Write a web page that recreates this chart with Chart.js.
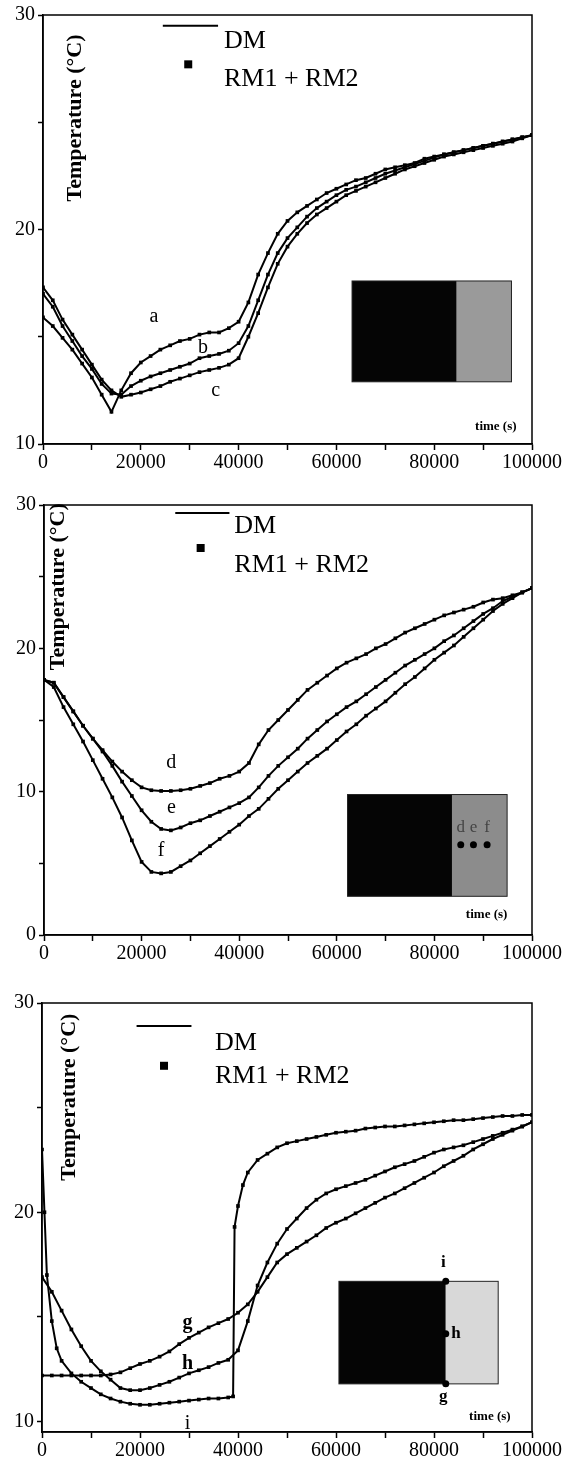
<!DOCTYPE html>
<html>
<head>
<meta charset="utf-8">
<script src="https://cdn.jsdelivr.net/npm/chart.js@4.4.0/dist/chart.umd.min.js"></script>
<style>
  body { margin: 0; background: #fff; }
  canvas { position: absolute; left: 0; }
</style>
</head>
<body>
<canvas id="grafico-abc" width="565" height="485" style="top:0"></canvas>
<canvas id="grafico-def" width="565" height="490" style="top:485px"></canvas>
<canvas id="grafico-ghi" width="565" height="486" style="top:975px"></canvas>
<script>
// tempos comuns (s)
const tempos = [0, 2000, 4000, 6000, 8000, 10000, 12000, 14000, 16000, 18000, 20000, 22000, 24000, 26000, 28000, 30000, 32000, 34000, 36000, 38000, 40000, 42000, 44000, 46000, 48000, 50000, 52000, 54000, 56000, 58000, 60000, 62000, 64000, 66000, 68000, 70000, 72000, 74000, 76000, 78000, 80000, 82000, 84000, 86000, 88000, 90000, 92000, 94000, 96000, 98000, 100000];

// painel 1
const curvaA = [15.9, 15.5, 14.95, 14.4, 13.75, 13.1, 12.3, 11.5, 12.5, 13.3, 13.8, 14.1, 14.4, 14.6, 14.8, 14.9, 15.1, 15.2, 15.2, 15.4, 15.7, 16.6, 17.9, 18.9, 19.8, 20.4, 20.8, 21.1, 21.4, 21.7, 21.9, 22.1, 22.3, 22.4, 22.6, 22.8, 22.9, 23.0, 23.1, 23.3, 23.4, 23.5, 23.6, 23.7, 23.8, 23.9, 24.0, 24.1, 24.2, 24.3, 24.4];
const curvaB = [17.0, 16.4, 15.5, 14.8, 14.1, 13.5, 12.8, 12.35, 12.3, 12.7, 12.95, 13.15, 13.3, 13.45, 13.6, 13.75, 14.0, 14.1, 14.2, 14.35, 14.7, 15.5, 16.7, 17.9, 18.9, 19.6, 20.1, 20.6, 21.0, 21.3, 21.6, 21.85, 22.0, 22.2, 22.4, 22.6, 22.75, 22.9, 23.05, 23.2, 23.35, 23.5, 23.6, 23.7, 23.8, 23.9, 24.0, 24.1, 24.2, 24.3, 24.4];
const curvaC = [17.3, 16.7, 15.8, 15.1, 14.4, 13.7, 13.0, 12.5, 12.2, 12.3, 12.4, 12.55, 12.7, 12.9, 13.05, 13.2, 13.35, 13.45, 13.55, 13.7, 14.0, 15.0, 16.1, 17.3, 18.4, 19.2, 19.8, 20.3, 20.7, 21.0, 21.3, 21.6, 21.8, 22.0, 22.2, 22.4, 22.6, 22.8, 22.95, 23.1, 23.25, 23.4, 23.5, 23.6, 23.7, 23.8, 23.9, 24.0, 24.1, 24.25, 24.4];

// painel 2
const curvaD = [17.8, 17.6, 16.6, 15.6, 14.6, 13.7, 12.9, 12.1, 11.4, 10.8, 10.3, 10.1, 10.05, 10.05, 10.1, 10.2, 10.4, 10.6, 10.9, 11.1, 11.4, 12.0, 13.3, 14.3, 15.0, 15.7, 16.4, 17.1, 17.6, 18.1, 18.6, 19.0, 19.3, 19.6, 20.0, 20.3, 20.7, 21.1, 21.4, 21.7, 22.0, 22.3, 22.5, 22.7, 22.9, 23.2, 23.4, 23.5, 23.7, 23.9, 24.2];
const curvaE = [17.8, 17.6, 16.6, 15.6, 14.6, 13.7, 12.8, 11.8, 10.7, 9.7, 8.7, 7.9, 7.4, 7.3, 7.5, 7.8, 8.0, 8.3, 8.6, 8.9, 9.2, 9.6, 10.3, 11.1, 11.8, 12.4, 13.0, 13.7, 14.3, 14.9, 15.4, 15.9, 16.3, 16.8, 17.3, 17.8, 18.3, 18.8, 19.2, 19.6, 20.0, 20.5, 20.9, 21.4, 21.9, 22.4, 22.8, 23.3, 23.6, 23.9, 24.2];
const curvaF = [17.8, 17.3, 15.9, 14.7, 13.5, 12.2, 10.9, 9.6, 8.2, 6.6, 5.1, 4.4, 4.3, 4.4, 4.8, 5.2, 5.7, 6.2, 6.7, 7.2, 7.7, 8.3, 8.8, 9.5, 10.2, 10.8, 11.4, 12.0, 12.5, 13.0, 13.6, 14.2, 14.7, 15.3, 15.8, 16.3, 16.9, 17.5, 18.0, 18.6, 19.2, 19.7, 20.2, 20.8, 21.4, 22.0, 22.6, 23.1, 23.5, 23.9, 24.2];

// painel 3
const curvaG = [12.2, 12.2, 12.2, 12.2, 12.2, 12.2, 12.2, 12.25, 12.35, 12.55, 12.75, 12.9, 13.1, 13.35, 13.7, 14.0, 14.25, 14.5, 14.7, 14.9, 15.2, 15.6, 16.2, 16.9, 17.6, 18.0, 18.3, 18.6, 18.9, 19.25, 19.5, 19.7, 19.95, 20.2, 20.45, 20.7, 20.9, 21.15, 21.4, 21.65, 21.9, 22.2, 22.45, 22.7, 23.0, 23.25, 23.5, 23.7, 23.9, 24.1, 24.3];
const curvaH = [16.9, 16.2, 15.3, 14.4, 13.6, 12.9, 12.4, 12.0, 11.6, 11.5, 11.5, 11.6, 11.75, 11.9, 12.1, 12.3, 12.45, 12.6, 12.8, 12.95, 13.4, 14.8, 16.5, 17.6, 18.5, 19.2, 19.7, 20.2, 20.6, 20.9, 21.1, 21.25, 21.4, 21.55, 21.75, 21.95, 22.15, 22.3, 22.45, 22.65, 22.85, 23.0, 23.1, 23.2, 23.35, 23.5, 23.65, 23.8, 23.95, 24.1, 24.3];
const tempoI = [0, 500, 1000, 2000, 3000, 4000, 6000, 8000, 10000, 12000, 14000, 16000, 18000, 20000, 22000, 24000, 26000, 28000, 30000, 32000, 34000, 36000, 38000, 39000, 39300, 40000, 41000, 42000, 44000, 46000, 48000, 50000, 52000, 54000, 56000, 58000, 60000, 62000, 64000, 66000, 68000, 70000, 72000, 74000, 76000, 78000, 80000, 82000, 84000, 86000, 88000, 90000, 92000, 94000, 96000, 98000, 100000];
const curvaI = [23.0, 20.0, 17.0, 14.8, 13.5, 12.9, 12.3, 11.9, 11.6, 11.3, 11.1, 10.95, 10.85, 10.8, 10.8, 10.85, 10.9, 10.95, 11.0, 11.05, 11.1, 11.1, 11.15, 11.2, 19.3, 20.3, 21.3, 21.9, 22.5, 22.8, 23.1, 23.3, 23.4, 23.5, 23.6, 23.7, 23.8, 23.85, 23.9, 24.0, 24.05, 24.1, 24.1, 24.15, 24.2, 24.25, 24.3, 24.35, 24.4, 24.4, 24.45, 24.5, 24.55, 24.6, 24.6, 24.65, 24.65];

// eixos
const marcasTempo = [0, 10000, 20000, 30000, 40000, 50000, 60000, 70000, 80000, 90000, 100000];
const rotulosTempo = ['0', '20000', '40000', '60000', '80000', '100000'];
const marcasTemp1 = [10, 15, 20, 25, 30];
const marcasTemp2 = [0, 5, 10, 15, 20, 25, 30];
const rotulosTemp = ['0', '10', '20', '30'];

const serifa = "'Liberation Serif', 'DejaVu Serif', serif";

function pares(xs, ys) {
  return xs.map((t, i) => ({ x: t, y: ys[i] }));
}

function serie(xs, ys) {
  return {
    data: pares(xs, ys),
    showLine: true,
    borderColor: '#000',
    backgroundColor: '#000',
    borderWidth: 2,
    pointStyle: 'rect',
    pointRadius: 2.6,
    pointBorderWidth: 0,
    tension: 0,
  };
}

const pluginDecoracao = {
  id: 'decoracao',
  afterDraw(chart, args, opts) {
    const { ctx, chartArea } = chart;
    const px = (t) => chart.scales.x.getPixelForValue(t);
    const py = (v) => chart.scales.y.getPixelForValue(v);

    ctx.save();
    ctx.strokeStyle = '#000';
    ctx.lineWidth = 1.5;
    ctx.strokeRect(chartArea.left, chartArea.top, chartArea.right - chartArea.left, chartArea.bottom - chartArea.top);

    // titulo do eixo y, dentro do grafico
    ctx.fillStyle = '#000';
    ctx.save();
    ctx.translate(px(opts.titulo[0]), py(opts.titulo[1]));
    ctx.rotate(-Math.PI / 2);
    ctx.font = 'bold 22px ' + serifa;
    ctx.textAlign = 'center';
    ctx.textBaseline = 'middle';
    ctx.fillText('Temperature (°C)', 0, 0);
    ctx.restore();

    // legenda
    const leg = opts.legenda;
    ctx.lineWidth = 2;
    ctx.beginPath();
    ctx.moveTo(px(leg.linha[0]), py(leg.linha[2]));
    ctx.lineTo(px(leg.linha[1]), py(leg.linha[2]));
    ctx.stroke();
    ctx.fillRect(px(leg.quadrado[0]) - 4, py(leg.quadrado[1]) - 4, 8, 8);
    ctx.font = '26px ' + serifa;
    ctx.textAlign = 'left';
    ctx.textBaseline = 'middle';
    ctx.fillText('DM', px(leg.textoX), py(leg.dmY));
    ctx.fillText('RM1 + RM2', px(leg.textoX), py(leg.rmY));

    // time (s)
    ctx.font = 'bold 13px ' + serifa;
    ctx.textAlign = 'center';
    ctx.fillText('time (s)', px(opts.tempo[0]), py(opts.tempo[1]));

    // rotulos das curvas
    opts.rotulos.forEach((r) => {
      ctx.font = (r.negrito ? 'bold ' : '') + '20px ' + serifa;
      ctx.fillStyle = '#000';
      ctx.fillText(r.texto, px(r.t), py(r.v));
    });

    // desenho da parede
    const ins = opts.parede;
    const x0 = px(ins.t[0]), x1 = px(ins.t[1]), x2 = px(ins.t[2]);
    const y0 = py(ins.v[0]), y1 = py(ins.v[1]);
    ctx.fillStyle = '#050505';
    ctx.fillRect(x0, y0, x1 - x0, y1 - y0);
    ctx.fillStyle = ins.cor;
    ctx.fillRect(x1, y0, x2 - x1, y1 - y0);
    ctx.strokeStyle = '#222';
    ctx.lineWidth = 1;
    ctx.strokeRect(x0, y0, x2 - x0, y1 - y0);

    (ins.pontos || []).forEach((p) => {
      ctx.fillStyle = '#000';
      ctx.beginPath();
      ctx.arc(px(p[0]), py(p[1]), 3.5, 0, Math.PI * 2);
      ctx.fill();
    });
    (ins.letras || []).forEach((l) => {
      ctx.fillStyle = l.cor || '#000';
      ctx.font = (l.negrito ? 'bold ' : '') + '17px ' + serifa;
      ctx.textAlign = 'center';
      ctx.fillText(l.texto, px(l.t), py(l.v));
    });
    ctx.restore();
  },
};

function montarGrafico(idCanvas, datasets, eixoY, layout, decoracao) {
  const ctx = document.getElementById(idCanvas).getContext('2d');

  return new Chart(ctx, {
    type: 'scatter',
    data: { datasets: datasets },
    plugins: [pluginDecoracao],
    options: {
      responsive: false,
      animation: false,
      layout: { padding: layout.padding },
      plugins: {
        legend: { display: false },
        tooltip: { enabled: false },
        decoracao: decoracao,
      },
      scales: {
        x: {
          type: 'linear',
          min: 0,
          max: 100000,
          afterBuildTicks: (scale) => {
            scale.ticks = marcasTempo.map((v) => ({ value: v }));
          },
          afterFit: (scale) => {
            scale.height = layout.alturaX;
          },
          ticks: {
            autoSkip: false,
            maxRotation: 0,
            color: '#000',
            padding: 1,
            font: { family: serifa, size: 20 },
            callback: (value) => (rotulosTempo.includes(String(value)) ? String(value) : ''),
          },
          grid: {
            drawOnChartArea: false,
            drawTicks: true,
            tickLength: 6,
            tickWidth: 1.5,
            tickColor: '#000',
          },
          border: { color: '#000', width: 1.5 },
        },
        y: {
          min: eixoY.min,
          max: eixoY.max,
          afterBuildTicks: (scale) => {
            scale.ticks = eixoY.marcas.map((v) => ({ value: v }));
          },
          afterFit: (scale) => {
            scale.width = layout.larguraY;
          },
          ticks: {
            color: '#000',
            padding: 3,
            font: { family: serifa, size: 20 },
            callback: (value) => (rotulosTemp.includes(String(value)) ? String(value) : ''),
          },
          grid: {
            drawOnChartArea: false,
            drawTicks: true,
            tickLength: 5,
            tickWidth: 1.5,
            tickColor: '#000',
          },
          border: { color: '#000', width: 1.5 },
        },
      },
    },
  });
}

montarGrafico(
  'grafico-abc',
  [serie(tempos, curvaA), serie(tempos, curvaB), serie(tempos, curvaC)],
  { min: 10, max: 30, marcas: marcasTemp1 },
  { padding: { top: 14, right: 33, bottom: 11, left: 0 }, larguraY: 43, alturaX: 30 },
  {
    titulo: [6700, 25.2],
    legenda: { linha: [24500, 35800, 29.5], quadrado: [29700, 27.7], textoX: 37000, dmY: 28.8, rmY: 27.0 },
    tempo: [92600, 10.8],
    rotulos: [
      { texto: 'a', t: 22700, v: 15.95 },
      { texto: 'b', t: 32700, v: 14.5 },
      { texto: 'c', t: 35300, v: 12.5 },
    ],
    parede: { t: [63200, 84600, 95800], v: [17.6, 12.9], cor: '#9a9a9a' },
  }
);

montarGrafico(
  'grafico-def',
  [serie(tempos, curvaD), serie(tempos, curvaE), serie(tempos, curvaF)],
  { min: 0, max: 30, marcas: marcasTemp2 },
  { padding: { top: 20, right: 33, bottom: 10, left: 0 }, larguraY: 44, alturaX: 30 },
  {
    titulo: [3000, 24.3],
    legenda: { linha: [26900, 38000, 29.45], quadrado: [32100, 27.0], textoX: 39000, dmY: 28.5, rmY: 25.8 },
    tempo: [90700, 1.4],
    rotulos: [
      { texto: 'd', t: 26100, v: 12.05 },
      { texto: 'e', t: 26100, v: 8.9 },
      { texto: 'f', t: 24000, v: 5.85 },
    ],
    parede: {
      t: [62200, 83600, 94900],
      v: [9.8, 2.7],
      cor: '#8c8c8c',
      pontos: [[85400, 6.3], [88000, 6.3], [90800, 6.3]],
      letras: [
        { texto: 'd', t: 85400, v: 7.5, cor: '#444' },
        { texto: 'e', t: 88000, v: 7.5, cor: '#444' },
        { texto: 'f', t: 90800, v: 7.5, cor: '#444' },
      ],
    },
  }
);

montarGrafico(
  'grafico-ghi',
  [serie(tempos, curvaG), serie(tempos, curvaH), serie(tempoI, curvaI)],
  { min: 9.5, max: 30, marcas: marcasTemp1 },
  { padding: { top: 28, right: 33, bottom: 1, left: 0 }, larguraY: 42, alturaX: 28 },
  {
    titulo: [5600, 25.5],
    legenda: { linha: [19300, 30500, 28.9], quadrado: [24900, 27.0], textoX: 35300, dmY: 28.1, rmY: 26.5 },
    tempo: [91400, 10.25],
    rotulos: [
      { texto: 'g', t: 29700, v: 14.7, negrito: true },
      { texto: 'h', t: 29700, v: 12.75, negrito: true },
      { texto: 'i', t: 29700, v: 9.9 },
    ],
    parede: {
      t: [60600, 82400, 93100],
      v: [16.7, 11.8],
      cor: '#d8d8d8',
      pontos: [[82400, 16.7], [82400, 14.2], [82400, 11.8]],
      letras: [
        { texto: 'i', t: 81900, v: 17.6, negrito: true },
        { texto: 'h', t: 84500, v: 14.2, negrito: true },
        { texto: 'g', t: 81900, v: 11.2, negrito: true },
      ],
    },
  }
);
</script>
</body>
</html>
